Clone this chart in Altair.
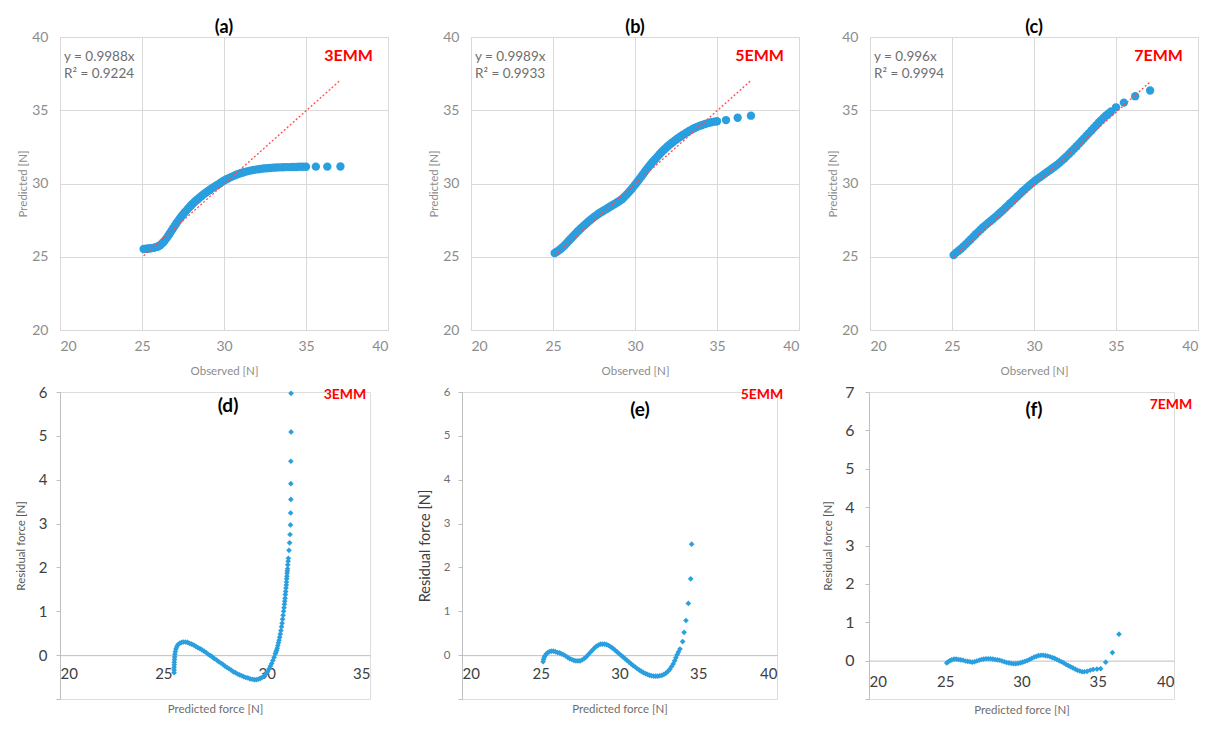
import altair as alt
import pandas as pd

# ---------------- data ----------------
TICKS_TOP = [20, 25, 30, 35, 40]
TREND_X = [25.1, 37.1]
SLOPES = [0.9988, 0.9989, 0.996]
EQS = ["y = 0.9988x", "y = 0.9989x", "y = 0.996x"]
R2S = ["R² = 0.9224", "R² = 0.9933", "R² = 0.9994"]
TAGS = ["3EMM", "5EMM", "7EMM"]
TOP_TITLES = ["(a)", "(b)", "(c)"]
BOT_TITLES = ["(d)", "(e)", "(f)"]

a_obs = [25.1, 25.2, 25.3, 25.4, 25.5, 25.6, 25.7, 25.8, 25.9, 26.0,
         26.1, 26.2, 26.3, 26.4, 26.5, 26.6, 26.7, 26.8, 26.9, 27.0,
         27.1, 27.2, 27.3, 27.4, 27.5, 27.6, 27.7, 27.8, 27.9, 28.0,
         28.1, 28.2, 28.3, 28.4, 28.5, 28.6, 28.7, 28.8, 28.9, 29.0,
         29.1, 29.2, 29.3, 29.4, 29.5, 29.6, 29.7, 29.8, 29.9, 30.0,
         30.15, 30.3, 30.45, 30.6, 30.75, 30.9, 31.05, 31.2,
         31.4, 31.6, 31.8, 32.0, 32.2, 32.4, 32.6, 32.8, 33.0, 33.2,
         33.4, 33.6, 33.8, 34.0, 34.2, 34.4, 34.6, 34.8, 35.0,
         35.6, 36.3, 37.1]
a_pred = [25.53, 25.54, 25.55, 25.56, 25.57, 25.59, 25.61, 25.64, 25.67, 25.72,
          25.79, 25.88, 25.99, 26.12, 26.27, 26.43, 26.6, 26.78, 26.95, 27.12,
          27.29, 27.45, 27.6, 27.75, 27.89, 28.02, 28.15, 28.28, 28.4, 28.52,
          28.63, 28.74, 28.84, 28.93, 29.03, 29.12, 29.21, 29.3, 29.38, 29.46,
          29.54, 29.62, 29.7, 29.77, 29.84, 29.91, 29.97, 30.06, 30.13, 30.2,
          30.29, 30.37, 30.45, 30.52, 30.6, 30.66, 30.72, 30.77,
          30.83, 30.88, 30.92, 30.96, 30.99, 31.02, 31.04, 31.06, 31.08, 31.09,
          31.1, 31.11, 31.12, 31.12, 31.13, 31.13, 31.14, 31.14, 31.14,
          31.15, 31.15, 31.16]

b_obs = [25.1, 25.2, 25.3, 25.4, 25.5, 25.6, 25.7, 25.8, 25.9, 26.0,
         26.1, 26.2, 26.3, 26.4, 26.5, 26.6, 26.7, 26.8, 26.9, 27.0,
         27.1, 27.2, 27.3, 27.4, 27.5, 27.6, 27.7, 27.8, 27.9, 28.0,
         28.1, 28.2, 28.3, 28.4, 28.5, 28.6, 28.7, 28.8, 28.9, 29.0,
         29.1, 29.2, 29.3, 29.4, 29.5, 29.6, 29.7, 29.8, 29.9, 30.0,
         30.1, 30.2, 30.3, 30.4, 30.5, 30.6, 30.7, 30.8, 30.9, 31.0,
         31.1, 31.2, 31.3, 31.4, 31.5, 31.6, 31.7, 31.8, 31.9, 32.0,
         32.1, 32.2, 32.3, 32.4, 32.5, 32.6, 32.7, 32.8, 32.9, 33.0,
         33.15, 33.3, 33.45, 33.6, 33.75, 33.9, 34.05, 34.2, 34.35, 34.5, 34.65, 34.85, 35.0,
         35.55, 36.26, 37.07]
b_pred = [25.25, 25.32, 25.39, 25.47, 25.56, 25.66, 25.77, 25.89, 26.01, 26.13,
          26.25, 26.37, 26.49, 26.6, 26.72, 26.83, 26.94, 27.04, 27.14, 27.24,
          27.34, 27.44, 27.53, 27.62, 27.71, 27.79, 27.87, 27.95, 28.02, 28.09,
          28.16, 28.22, 28.29, 28.36, 28.43, 28.5, 28.57, 28.63, 28.7, 28.77,
          28.85, 28.93, 29.03, 29.14, 29.26, 29.38, 29.5, 29.63, 29.77, 29.91,
          30.05, 30.2, 30.35, 30.5, 30.65, 30.8, 30.95, 31.09, 31.23, 31.37,
          31.5, 31.62, 31.74, 31.87, 32.0, 32.12, 32.23, 32.34, 32.44, 32.54,
          32.64, 32.73, 32.82, 32.91, 32.99, 33.07, 33.15, 33.23, 33.3, 33.37,
          33.48, 33.58, 33.68, 33.77, 33.85, 33.92, 33.98, 34.04, 34.09, 34.14, 34.18, 34.22, 34.25,
          34.33, 34.49, 34.63]

c_obs = [25.1, 25.25, 25.4, 25.55, 25.7, 25.85, 26.0, 26.15, 26.3, 26.45,
         26.6, 26.75, 26.9, 27.05, 27.2, 27.35, 27.5, 27.65, 27.8, 27.95,
         28.1, 28.25, 28.4, 28.55, 28.7, 28.85, 29.0, 29.15, 29.3, 29.45,
         29.6, 29.75, 29.9, 30.05, 30.2, 30.35, 30.5, 30.65, 30.8, 30.95,
         31.1, 31.25, 31.4, 31.55, 31.7, 31.85, 32.0, 32.15, 32.3, 32.45,
         32.6, 32.75, 32.9, 33.05, 33.2, 33.35, 33.5, 33.65, 33.8, 33.95,
         34.1, 34.25, 34.4, 34.55, 34.7,
         35.0, 35.48, 36.17, 37.08]
c_pred = [25.12, 25.28, 25.41, 25.55, 25.7, 25.86, 26.03, 26.2, 26.37, 26.54,
          26.7, 26.86, 27.01, 27.16, 27.3, 27.44, 27.58, 27.72, 27.87, 28.02,
          28.17, 28.33, 28.49, 28.65, 28.81, 28.97, 29.13, 29.29, 29.45, 29.6,
          29.75, 29.9, 30.04, 30.17, 30.3, 30.42, 30.54, 30.66, 30.78, 30.9,
          31.02, 31.14, 31.27, 31.41, 31.56, 31.71, 31.87, 32.03, 32.2, 32.37,
          32.54, 32.72, 32.9, 33.08, 33.26, 33.44, 33.62, 33.8, 33.98, 34.16,
          34.33, 34.49, 34.64, 34.78, 34.92,
          35.2, 35.52, 35.96, 36.35]

d_pred = [25.52, 25.52, 25.52, 25.53, 25.53, 25.54, 25.55, 25.56, 25.58, 25.61,
          25.65, 25.71, 25.79, 25.88, 25.97, 26.07, 26.17, 26.27, 26.37, 26.47,
          26.57, 26.67, 26.77, 26.87, 26.97, 27.07, 27.17, 27.27, 27.37, 27.47,
          27.58, 27.68, 27.78, 27.88, 27.98, 28.08, 28.18, 28.28, 28.39, 28.49,
          28.59, 28.69, 28.79, 28.89, 28.99, 29.09, 29.19, 29.3, 29.4, 29.5,
          29.6, 29.7, 29.8, 29.9, 29.98, 30.05, 30.12, 30.18, 30.24, 30.3,
          30.36,
          30.42, 30.45, 30.48, 30.51, 30.54, 30.57, 30.6, 30.63, 30.66, 30.69,
          30.72, 30.745, 30.77, 30.795, 30.82, 30.84, 30.86, 30.875, 30.89, 30.905,
          30.92, 30.935, 30.95, 30.96, 30.97, 30.98, 30.99, 31.0, 31.01, 31.02,
          31.04,
          31.05, 31.08, 31.11, 31.13, 31.15, 31.16, 31.17, 31.17, 31.17, 31.18, 31.18]
d_res = [-0.40, -0.34, -0.28, -0.22, -0.16, -0.10, -0.04, 0.02, 0.08, 0.14,
         0.19, 0.24, 0.27, 0.29, 0.30, 0.30, 0.29, 0.27, 0.25, 0.23,
         0.20, 0.17, 0.15, 0.12, 0.09, 0.06, 0.02, -0.01, -0.04, -0.08,
         -0.11, -0.15, -0.18, -0.21, -0.25, -0.28, -0.31, -0.34, -0.38, -0.40,
         -0.43, -0.45, -0.47, -0.49, -0.51, -0.52, -0.54, -0.55, -0.56, -0.56,
         -0.55, -0.53, -0.50, -0.47, -0.42, -0.37, -0.31, -0.25, -0.19, -0.12,
         -0.05,
         0.03, 0.07, 0.11, 0.16, 0.22, 0.28, 0.34, 0.41, 0.48, 0.56,
         0.65, 0.73, 0.82, 0.91, 1.00, 1.08, 1.16, 1.23, 1.30, 1.38,
         1.45, 1.53, 1.60, 1.67, 1.74, 1.80, 1.87, 1.92, 1.97, 2.06,
         2.14,
         2.21, 2.39, 2.56, 2.75, 2.97, 3.24, 3.55, 3.91, 4.42, 5.09, 5.97]

e_pred = [25.15, 25.18, 25.22, 25.28, 25.36, 25.45, 25.55, 25.67, 25.8, 25.93,
          26.06, 26.19, 26.32, 26.45, 26.58, 26.71, 26.84, 26.97, 27.1, 27.23,
          27.36, 27.49, 27.62, 27.75, 27.88, 28.01, 28.14, 28.27, 28.4, 28.53,
          28.66, 28.79, 28.92, 29.05, 29.18, 29.31, 29.44, 29.57, 29.7, 29.83,
          29.96, 30.09, 30.22, 30.35, 30.48, 30.61, 30.74, 30.87, 31.0, 31.13,
          31.26, 31.39, 31.52, 31.65, 31.78, 31.91, 32.04, 32.17, 32.3, 32.43,
          32.56, 32.69, 32.82, 32.95, 33.08, 33.2, 33.31, 33.41, 33.5, 33.58,
          33.66, 33.74, 33.84, 34.01, 34.1, 34.22, 34.37, 34.52, 34.58]
e_res = [-0.15, -0.10, -0.05, -0.01, 0.03, 0.06, 0.08, 0.09, 0.09, 0.08,
         0.06, 0.05, 0.03, 0.01, -0.02, -0.05, -0.08, -0.10, -0.12, -0.13,
         -0.13, -0.13, -0.11, -0.08, -0.04, 0.01, 0.06, 0.11, 0.16, 0.20,
         0.23, 0.25, 0.25, 0.25, 0.24, 0.22, 0.19, 0.16, 0.12, 0.08,
         0.04, 0.00, -0.04, -0.08, -0.12, -0.16, -0.20, -0.24, -0.27, -0.31,
         -0.34, -0.37, -0.40, -0.42, -0.44, -0.46, -0.47, -0.48, -0.48, -0.48,
         -0.47, -0.46, -0.44, -0.41, -0.37, -0.32, -0.26, -0.20, -0.13, -0.06,
         0.01, 0.07, 0.14, 0.31, 0.52, 0.79, 1.18, 1.74, 2.53]

f_pred = [25.1, 25.2, 25.3, 25.42, 25.57, 25.72, 25.87, 26.02, 26.17, 26.32,
          26.47, 26.62, 26.77, 26.92, 27.07, 27.22, 27.37, 27.52, 27.67, 27.82,
          27.97, 28.12, 28.27, 28.42, 28.57, 28.72, 28.87, 29.02, 29.17, 29.32,
          29.47, 29.62, 29.77, 29.92, 30.07, 30.22, 30.37, 30.52, 30.67, 30.82,
          30.97, 31.12, 31.27, 31.42, 31.57, 31.72, 31.87, 32.02, 32.17, 32.32,
          32.47, 32.62, 32.77, 32.92, 33.07, 33.22, 33.37, 33.52, 33.67, 33.82,
          33.97, 34.12, 34.3, 34.5, 34.7, 34.95, 35.19, 35.52, 35.96, 36.39]
f_res = [-0.06, -0.03, 0.00, 0.02, 0.04, 0.04, 0.03, 0.02, 0.01, -0.01,
         -0.02, -0.03, -0.04, -0.03, -0.01, 0.01, 0.03, 0.04, 0.05, 0.05,
         0.05, 0.04, 0.03, 0.02, 0.01, -0.01, -0.03, -0.05, -0.06, -0.07,
         -0.08, -0.08, -0.07, -0.06, -0.04, -0.02, 0.00, 0.03, 0.06, 0.09,
         0.11, 0.13, 0.14, 0.14, 0.13, 0.12, 0.10, 0.08, 0.06, 0.03,
         0.00, -0.03, -0.06, -0.10, -0.13, -0.16, -0.19, -0.22, -0.25, -0.27,
         -0.29, -0.29, -0.28, -0.25, -0.23, -0.22, -0.21, -0.04, 0.21, 0.69]

# ---------------- styling ----------------
BLUE = "#2A9FDF"
TREND_RED = "#FF4D4D"
TAG_RED = "#FF0000"
FONT = "Lato"
GRID = "#D9D9D9"
TOP_W, TOP_H = 328, 293
BOT_H = 307


def one_row():
    return pd.DataFrame({"k": [0]})


def top_panel(i, obs, pred):
    df = pd.DataFrame({"obs": obs, "pred": pred})
    tr = pd.DataFrame({"obs": TREND_X, "pred": [SLOPES[i] * v for v in TREND_X]})
    sc = alt.Scale(domain=[20, 40], nice=False, zero=False)
    common = dict(values=TICKS_TOP, grid=True, gridColor=GRID, gridWidth=1, domain=False,
                  ticks=False, tickSize=0, labelFont=FONT, labelFontSize=14,
                  labelColor="#8C8C8C", titleFont=FONT, titleFontSize=11.5,
                  titleFontWeight="normal", titleColor="#8C8C8C")
    xax = alt.Axis(labelPadding=9, title="Observed [N]", titleX=TOP_W / 2, titleY=35, **common)
    yax = alt.Axis(labelPadding=12, title="Predicted [N]", titleX=-32, titleY=TOP_H / 2, **common)
    pts = alt.Chart(df).mark_circle(size=70, color=BLUE, opacity=1).encode(
        x=alt.X("obs:Q", scale=sc, axis=xax),
        y=alt.Y("pred:Q", scale=sc, axis=yax))
    line = alt.Chart(tr).mark_line(color=TREND_RED, strokeDash=[2, 2], strokeWidth=1.3).encode(
        x="obs:Q", y="pred:Q")
    eq = alt.Chart(one_row()).mark_text(
        align="left", baseline="top", font=FONT, fontSize=13.5, color="#6E6E6E",
        lineBreak="\n", lineHeight=17).encode(
        x=alt.value(4), y=alt.value(13), text=alt.value(EQS[i] + "\n" + R2S[i]))
    tag = alt.Chart(one_row()).mark_text(
        align="right", baseline="middle", font=FONT, fontSize=16, fontWeight="bold",
        color=TAG_RED).encode(x=alt.value(313), y=alt.value(19), text=alt.value(TAGS[i]))
    return alt.layer(pts, line, eq, tag).properties(
        width=TOP_W, height=TOP_H,
        title=alt.TitleParams(TOP_TITLES[i], font=FONT, fontSize=18, fontWeight="bold",
                              color="#000000", offset=-7))


def bot_panel(i, pred, res, xmax, ymax, width, ylab, ytitle, xlab_pad, title_pos, tag_pos, tag_size):
    df = pd.DataFrame({"pred": pred, "res": res})
    zero_off = BOT_H / (ymax + 1)
    xs = alt.Scale(domain=[20, xmax], nice=False, zero=False)
    ys = alt.Scale(domain=[-1, ymax], nice=False, zero=False)
    xax = alt.Axis(values=list(range(20, xmax + 1, 5)), grid=False, domain=True,
                   domainColor="#BFBFBF", ticks=False, tickSize=0, offset=-zero_off,
                   labelFont=FONT, labelFontSize=15, labelColor="#404040",
                   labelPadding=xlab_pad, title="Predicted force [N]", titleFont=FONT,
                   titleFontSize=11.5, titleFontWeight="normal", titleColor="#6E6E6E",
                   titleX=width / 2, titleY=zero_off + 5)
    yax = alt.Axis(values=list(range(-1, ymax + 1)), grid=False, domain=True,
                   domainColor="#BFBFBF", ticks=True, tickSize=4, tickColor="#BFBFBF",
                   labelExpr="datum.value < 0 ? '' : datum.label",
                   labelFont=FONT, labelFontSize=ylab[0], labelColor=ylab[1],
                   labelPadding=ylab[2], title="Residual force [N]", titleFont=FONT,
                   titleFontSize=ytitle[0], titleFontWeight="normal", titleColor=ytitle[1],
                   titleX=ytitle[2], titleY=BOT_H / 2)
    pts = alt.Chart(df).mark_point(shape="diamond", filled=True, size=32, color=BLUE,
                                   opacity=1).encode(
        x=alt.X("pred:Q", scale=xs, axis=xax),
        y=alt.Y("res:Q", scale=ys, axis=yax))
    ttl = alt.Chart(one_row()).mark_text(
        align="center", baseline="middle", font=FONT, fontSize=19, fontWeight="bold",
        color="#000000").encode(x=alt.value(title_pos[0]), y=alt.value(title_pos[1]),
                                text=alt.value(BOT_TITLES[i]))
    tag = alt.Chart(one_row()).mark_text(
        align="center", baseline="middle", font=FONT, fontSize=tag_size, fontWeight="bold",
        color=TAG_RED).encode(x=alt.value(tag_pos[0]), y=alt.value(tag_pos[1]),
                              text=alt.value(TAGS[i]))
    return alt.layer(pts, ttl, tag).properties(width=width, height=BOT_H)


pa = top_panel(0, a_obs, a_pred)
pb = top_panel(1, b_obs, b_pred)
pc = top_panel(2, c_obs, c_pred)

pdd = bot_panel(0, d_pred, d_res, 35, 6, 310, (15, "#404040", 9), (11.5, "#595959", -34), 11,
                (168, 14), (285, 3), 14)
pe = bot_panel(1, e_pred, e_res, 40, 6, 315, (11.5, "#6E6E6E", 8), (14.5, "#404040", -30), 11,
               (178, 18), (300, 3), 14)
pf = bot_panel(2, f_pred, f_res, 40, 7, 305, (16, "#404040", 11), (11.5, "#595959", -36), 14,
               (165, 18), (302, 13), 14)

top = alt.hconcat(pa, alt.hconcat(pb, pc, spacing=71, bounds="flush"), spacing=83, bounds="flush")
bottom = alt.hconcat(pdd, pe, pf, spacing=92, bounds="flush")

chart = alt.vconcat(top, bottom, spacing=6).properties(
    padding={"left": 6, "top": 10, "right": 5, "bottom": 5}
).configure_view(stroke=None).configure(font=FONT)

chart.save("out.html", embed_options={"renderer": "svg", "actions": False})
